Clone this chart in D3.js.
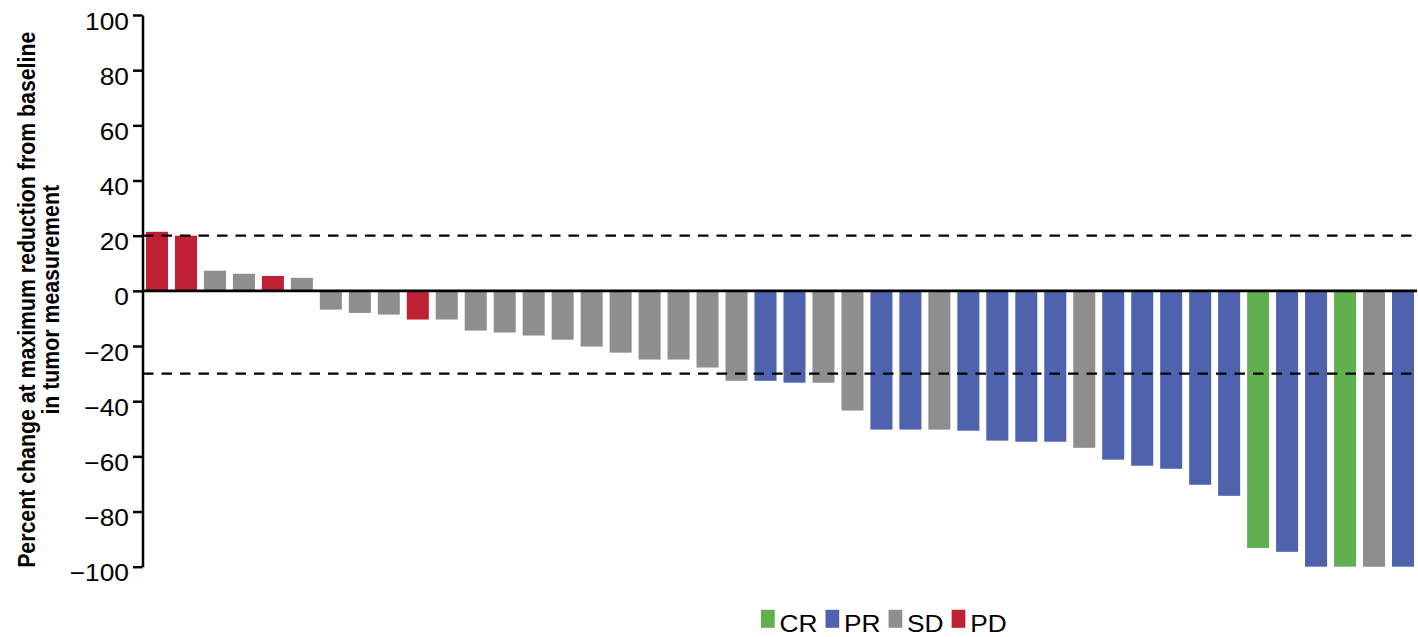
<!DOCTYPE html>
<html>
<head>
<meta charset="utf-8">
<script src="https://cdn.jsdelivr.net/npm/d3@7"></script>
<style>
  html, body { margin: 0; padding: 0; background: #fff; }
  svg { display: block; }
  text { font-family: "Liberation Sans", Arial, Helvetica, sans-serif; fill: #000; }
</style>
</head>
<body>
<svg id="chart" width="1418" height="637"></svg>
<script>
// Patients, ordered by best percent change in tumour measurement
const patients = d3.range(1, 45);
const responses = [
  "PD", "PD", "SD", "SD", "PD", "SD", "SD", "SD", "SD", "PD",
  "SD", "SD", "SD", "SD", "SD", "SD", "SD", "SD", "SD", "SD",
  "SD", "PR", "PR", "SD", "SD", "PR", "PR", "SD", "PR", "PR",
  "PR", "PR", "SD", "PR", "PR", "PR", "PR", "PR", "CR", "PR",
  "PR", "CR", "SD", "PR"
];
const changes = [
  21.4, 20.0, 7.3, 6.2, 5.4, 4.7, -6.8, -8.0, -8.6, -10.4,
  -10.4, -14.4, -15.1, -16.2, -17.7, -20.2, -22.4, -24.9, -24.9, -27.8,
  -32.6, -32.6, -33.3, -33.3, -43.4, -50.3, -50.3, -50.3, -50.7, -54.3,
  -54.7, -54.7, -56.9, -61.2, -63.4, -64.5, -70.3, -74.3, -93.2, -94.6,
  -100, -100, -100, -100
];
const yTicks = [-100, -80, -60, -40, -20, 0, 20, 40, 60, 80, 100];
const thresholds = [20, -30];
const legendOrder = ["CR", "PR", "SD", "PD"];
const responseColors = ["#61b04f", "#4e62ae", "#8e8e8e", "#c02034"];
const titleLines = ["Percent change at maximum reduction from baseline", "in tumor measurement"];

// Horizontal widening applied to the sans-serif labels
const wide = 1.12;

const svg = d3.select("#chart");

const x = d3.scaleBand()
  .domain(patients)
  .range([142.5, 1417.5])
  .paddingInner(0.24)
  .paddingOuter(0.12);

const y = d3.scaleLinear()
  .domain([-100, 100])
  .range([566.7, 15]);

const color = d3.scaleOrdinal().domain(legendOrder).range(responseColors);

// Bars
svg.append("g")
  .selectAll("rect")
  .data(patients)
  .join("rect")
  .attr("x", d => x(d))
  .attr("width", x.bandwidth())
  .attr("y", (d, i) => y(Math.max(0, changes[i])))
  .attr("height", (d, i) => Math.abs(y(changes[i]) - y(0)))
  .attr("fill", (d, i) => color(responses[i]));

// Response thresholds (+20% progression, -30% partial response)
svg.append("g")
  .selectAll("line")
  .data(thresholds)
  .join("line")
  .attr("x1", 143)
  .attr("x2", 1418)
  .attr("y1", d => y(d))
  .attr("y2", d => y(d))
  .attr("stroke", "#000")
  .attr("stroke-width", 2.2)
  .attr("stroke-dasharray", "10.5,8");

// Zero line
svg.append("line")
  .attr("x1", 142.5)
  .attr("x2", 1417)
  .attr("y1", y(0))
  .attr("y2", y(0))
  .attr("stroke", "#000")
  .attr("stroke-width", 2.6);

// Y axis
const yAxis = svg.append("g")
  .attr("transform", "translate(142.5,0)")
  .call(d3.axisLeft(y).tickValues(yTicks).tickSize(9.5).tickSizeOuter(0));

yAxis.select(".domain").attr("stroke", "#000").attr("stroke-width", 2.5);
yAxis.selectAll(".tick line").attr("stroke", "#000").attr("stroke-width", 2.5);
yAxis.selectAll(".tick text")
  .attr("x", 0)
  .attr("dy", "0.6em")
  .attr("text-anchor", "end")
  .attr("transform", `translate(-13.5,0) scale(${wide},1)`)
  .style("font-size", "23.5px")
  .style("fill", "#000");

// Y axis title, two lines
svg.append("g")
  .selectAll("text")
  .data(titleLines)
  .join("text")
  .attr("transform", (d, i) => `translate(${35 + i * 24},299.8) scale(${wide},1) rotate(-90)`)
  .attr("text-anchor", "middle")
  .style("font-size", "21.3px")
  .style("font-weight", "bold")
  .text(d => d);

// Legend
const legendBase = 631.5;
const legend = svg.append("g").attr("transform", "translate(761,0)");
let cursor = 0;
legendOrder.forEach(key => {
  const item = legend.append("g").attr("transform", `translate(${cursor},0)`);
  item.append("rect")
    .attr("x", 0)
    .attr("y", legendBase - 21.7)
    .attr("width", 13.7)
    .attr("height", 18)
    .attr("fill", color(key));
  const label = item.append("text")
    .attr("transform", `translate(18.5,${legendBase}) scale(${wide},1)`)
    .style("font-size", "23.5px")
    .text(key);
  const w = label.node().getComputedTextLength() * wide;
  cursor += 18.5 + w + 8;
});
</script>
</body>
</html>
